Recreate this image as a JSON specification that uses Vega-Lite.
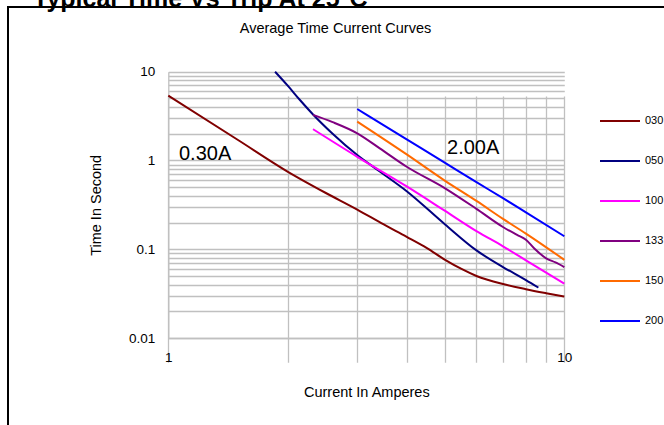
{
  "$schema": "https://vega.github.io/schema/vega-lite/v6.json",
  "autosize": {"type": "none"},
  "width": 680,
  "height": 420,
  "padding": {"left": 8, "top": 7, "right": 0, "bottom": 0},
  "background": "white",
  "title": {
    "text": "Typical Time Vs Trip At 25°C",
    "anchor": "start",
    "frame": "group",
    "dx": 25,
    "dy": 24.5,
    "offset": 0,
    "baseline": "alphabetic",
    "font": "Liberation Sans",
    "fontSize": 25,
    "fontWeight": "bold",
    "color": "#000000"
  },
  "datasets": {
    "curves": [
      {"series": "030", "current": 1, "time": 5.37},
      {"series": "030", "current": 1.5, "time": 1.7},
      {"series": "030", "current": 2, "time": 0.75},
      {"series": "030", "current": 2.5, "time": 0.43},
      {"series": "030", "current": 3, "time": 0.28},
      {"series": "030", "current": 3.5, "time": 0.19},
      {"series": "030", "current": 4, "time": 0.138},
      {"series": "030", "current": 4.5, "time": 0.103},
      {"series": "030", "current": 5, "time": 0.076},
      {"series": "030", "current": 5.5, "time": 0.06},
      {"series": "030", "current": 6, "time": 0.05},
      {"series": "030", "current": 7, "time": 0.0405},
      {"series": "030", "current": 8, "time": 0.0355},
      {"series": "030", "current": 9, "time": 0.032},
      {"series": "030", "current": 10, "time": 0.0293},
      {"series": "050", "current": 1.86, "time": 10},
      {"series": "050", "current": 2, "time": 7.0},
      {"series": "050", "current": 2.15, "time": 4.8},
      {"series": "050", "current": 2.32, "time": 3.3},
      {"series": "050", "current": 2.6, "time": 2.0},
      {"series": "050", "current": 3, "time": 1.15},
      {"series": "050", "current": 3.42, "time": 0.75},
      {"series": "050", "current": 4, "time": 0.45},
      {"series": "050", "current": 5, "time": 0.19},
      {"series": "050", "current": 6, "time": 0.097},
      {"series": "050", "current": 7, "time": 0.063},
      {"series": "050", "current": 8, "time": 0.045},
      {"series": "050", "current": 8.6, "time": 0.037},
      {"series": "100", "current": 2.32, "time": 2.25},
      {"series": "100", "current": 3, "time": 1.1},
      {"series": "100", "current": 4, "time": 0.51},
      {"series": "100", "current": 5, "time": 0.27},
      {"series": "100", "current": 6, "time": 0.16},
      {"series": "100", "current": 7, "time": 0.108},
      {"series": "100", "current": 8, "time": 0.075},
      {"series": "100", "current": 10, "time": 0.041},
      {"series": "133", "current": 2.32, "time": 3.26},
      {"series": "133", "current": 2.6, "time": 2.7},
      {"series": "133", "current": 3, "time": 2.02},
      {"series": "133", "current": 3.42, "time": 1.37},
      {"series": "133", "current": 4, "time": 0.85},
      {"series": "133", "current": 5, "time": 0.486},
      {"series": "133", "current": 6, "time": 0.285},
      {"series": "133", "current": 7, "time": 0.178},
      {"series": "133", "current": 7.6, "time": 0.145},
      {"series": "133", "current": 8, "time": 0.128},
      {"series": "133", "current": 8.4, "time": 0.102},
      {"series": "133", "current": 9, "time": 0.079},
      {"series": "133", "current": 9.5, "time": 0.071},
      {"series": "133", "current": 10, "time": 0.063},
      {"series": "150", "current": 3, "time": 2.74},
      {"series": "150", "current": 4, "time": 1.17},
      {"series": "150", "current": 5, "time": 0.59},
      {"series": "150", "current": 6, "time": 0.35},
      {"series": "150", "current": 7, "time": 0.22},
      {"series": "150", "current": 8, "time": 0.15},
      {"series": "150", "current": 10, "time": 0.076},
      {"series": "200", "current": 3, "time": 3.8},
      {"series": "200", "current": 4, "time": 1.73},
      {"series": "200", "current": 5, "time": 0.94},
      {"series": "200", "current": 6, "time": 0.57},
      {"series": "200", "current": 7, "time": 0.376},
      {"series": "200", "current": 8, "time": 0.26},
      {"series": "200", "current": 10, "time": 0.14}
    ],
    "notes": [
      {"label": "0.30A", "current": 1.064, "time": 1.0},
      {"label": "2.00A", "current": 5.056, "time": 1.196}
    ]
  },
  "encoding": {
    "y": {
      "field": "time",
      "type": "quantitative",
      "scale": {"type": "log", "domain": [0.01, 10], "range": [331, 64.7], "nice": false},
      "axis": {
        "title": "Time In Second",
        "offset": -160.3,
        "values": [0.01, 0.02, 0.03, 0.04, 0.05, 0.06, 0.07, 0.08, 0.09, 0.1, 0.2, 0.3, 0.4, 0.5, 0.6, 0.7, 0.8, 0.9, 1, 2, 3, 4, 5, 6, 7, 8, 9, 10],
        "labelExpr": "indexof([0.01, 0.1, 1, 10], datum.value) >= 0 ? datum.value + '' : ''",
        "labelOverlap": false,
        "labelFlush": false,
        "labelPadding": 13.5,
        "ticks": false,
        "tickSize": 0,
        "grid": true,
        "gridColor": "#C0C0C0",
        "gridWidth": 1.3,
        "domainColor": "#C0C0C0",
        "domainWidth": 1.3,
        "labelFont": "Liberation Sans",
        "labelFontSize": 13.5,
        "labelColor": "#000000",
        "titleFont": "Liberation Sans",
        "titleFontSize": 14.5,
        "titleFontWeight": "normal",
        "titleColor": "#000000",
        "titlePadding": 25
      }
    }
  },
  "layer": [
    {
      "data": {"name": "curves"},
      "mark": {"type": "line", "strokeWidth": 2, "interpolate": "monotone"},
      "encoding": {
        "x": {
          "field": "current",
          "type": "quantitative",
          "scale": {"type": "log", "domain": [1, 10], "range": [160.3, 556.3], "nice": false},
          "axis": {
            "orient": "bottom",
            "title": "Current In Amperes",
            "offset": -89,
            "values": [1, 2, 3, 4, 5, 6, 7, 8, 9, 10],
            "labelExpr": "datum.value == 1 || datum.value == 10 ? datum.value + '' : ''",
            "labelOverlap": false,
            "labelFlush": false,
            "labelPadding": 12,
            "ticks": false,
            "tickSize": 0,
            "grid": true,
            "gridColor": "#C0C0C0",
            "gridWidth": 1.3,
            "domainColor": "#C0C0C0",
            "domainWidth": 1.3,
            "labelFont": "Liberation Sans",
            "labelFontSize": 13.5,
            "labelColor": "#000000",
            "titleFont": "Liberation Sans",
            "titleFontSize": 14.5,
            "titleFontWeight": "normal",
            "titleColor": "#000000",
            "titlePadding": 22
          }
        },
        "color": {
          "field": "series",
          "type": "nominal",
          "scale": {
            "domain": ["030", "050", "100", "133", "150", "200"],
            "range": ["#800000", "#000080", "#FF00FF", "#800080", "#FF6A00", "#0000FF"]
          },
          "legend": {
            "orient": "none",
            "legendX": 591,
            "legendY": 93,
            "title": null,
            "padding": 0,
            "symbolType": "stroke",
            "symbolSize": 1600,
            "symbolStrokeWidth": 2,
            "rowPadding": 14,
            "labelOffset": 4,
            "labelFont": "Liberation Sans",
            "labelFontSize": 11,
            "labelColor": "#000000"
          }
        }
      }
    },
    {
      "data": {"name": "notes"},
      "mark": {"type": "text", "align": "left", "baseline": "alphabetic", "font": "Liberation Sans", "fontSize": 20, "color": "#000000"},
      "encoding": {
        "x": {
          "field": "current",
          "type": "quantitative",
          "axis": {
            "orient": "top",
            "title": "Average Time Current Curves",
            "labels": false,
            "ticks": false,
            "domain": false,
            "grid": false,
            "titleX": 327,
            "titleY": 21,
            "titleAlign": "center",
            "titleBaseline": "middle",
            "titleFont": "Liberation Sans",
            "titleFontSize": 14.5,
            "titleFontWeight": "normal",
            "titleColor": "#000000"
          }
        },
        "text": {"field": "label"}
      }
    }
  ],
  "resolve": {"axis": {"x": "independent"}},
  "config": {
    "view": {"stroke": "#000000", "strokeWidth": 2, "fill": "white"}
  }
}
